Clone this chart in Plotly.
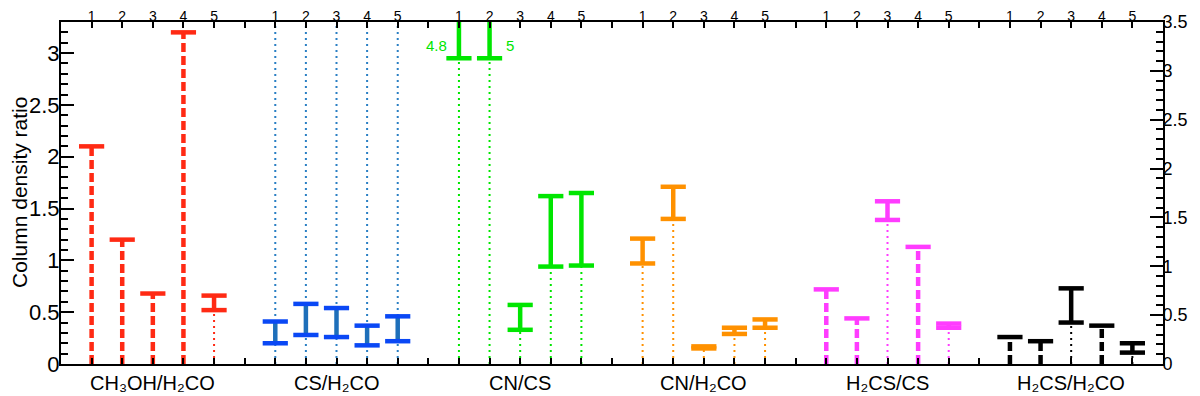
import plotly.graph_objects as go

# Column density ratios per group, sources 1..5
# lo = None -> upper limit only (dashed stem with a cap at the top)
group_names = ["CH₃OH/H₂CO", "CS/H₂CO", "CN/CS", "CN/H₂CO", "H₂CS/CS", "H₂CS/H₂CO"]
source_labels = ["1", "2", "3", "4", "5"]

ch3oh_h2co_lo = [None, None, None, None, 0.52]
ch3oh_h2co_hi = [2.10, 1.20, 0.68, 3.20, 0.66]

cs_h2co_lo = [0.20, 0.28, 0.26, 0.18, 0.22]
cs_h2co_hi = [0.41, 0.58, 0.54, 0.37, 0.46]

cn_cs_lo = [2.95, 2.95, 0.33, 0.94, 0.95]
cn_cs_hi = [4.8, 5.0, 0.57, 1.62, 1.65]

cn_h2co_lo = [0.97, 1.40, 0.15, 0.29, 0.35]
cn_h2co_hi = [1.21, 1.71, 0.17, 0.35, 0.43]

h2cs_cs_lo = [None, None, 1.39, None, 0.35]
h2cs_cs_hi = [0.72, 0.44, 1.57, 1.13, 0.39]

h2cs_h2co_lo = [None, None, 0.40, None, 0.11]
h2cs_h2co_hi = [0.26, 0.22, 0.73, 0.37, 0.20]

lows = [ch3oh_h2co_lo, cs_h2co_lo, cn_cs_lo, cn_h2co_lo, h2cs_cs_lo, h2cs_h2co_lo]
highs = [ch3oh_h2co_hi, cs_h2co_hi, cn_cs_hi, cn_h2co_hi, h2cs_cs_hi, h2cs_h2co_hi]

colors = ["#ff2a14", "#0a48f5", "#00e600", "#ff9100", "#ff3cff", "#000000"]
stem_colors = ["#ff2a14", "#1e6fba", "#00e600", "#ff9100", "#ff3cff", "#000000"]
full_guides = [False, True, False, False, False, False]

FONT = "Liberation Sans, Arial, Helvetica, sans-serif"
Y_LEFT_MAX = 3.30
Y_RIGHT_MAX = 3.5
STEP = len(source_labels) + 1
N_POS = STEP * len(group_names)

DOT = "2px,4px"
DASH = "9px,4px"

fig = go.Figure()

clipped = []
for g in range(len(group_names)):
    xs = [STEP * g + i + 1 for i in range(len(source_labels))]
    dot_x, dot_y, dash_x, dash_y = [], [], [], []
    bar_x, bar_y, cap_x, cap_y = [], [], [], []
    for x, lo, hi in zip(xs, lows[g], highs[g]):
        if lo is None:
            dash_x += [x, x, None]
            dash_y += [0, hi, None]
            cap_x.append(x)
            cap_y.append(hi)
        else:
            if not full_guides[g]:
                dot_x += [x, x, None]
                dot_y += [0, lo, None]
            bar_x += [x, x, None]
            bar_y += [lo, hi, None]
            cap_x.append(x)
            cap_y.append(lo)
            if hi <= Y_LEFT_MAX:
                cap_x.append(x)
                cap_y.append(hi)
            else:
                clipped.append((x, hi, colors[g]))

    if full_guides[g]:
        for x in xs:
            fig.add_vline(x=x, layer="below",
                          line=dict(color="#2a7fc4", width=2, dash=DOT))

    fig.add_trace(go.Scatter(
        x=dot_x, y=dot_y, mode="lines",
        line=dict(color=colors[g], width=2, dash=DOT),
        hoverinfo="skip",
    ))
    fig.add_trace(go.Scatter(
        x=dash_x, y=dash_y, mode="lines",
        line=dict(color=colors[g], width=4.5, dash=DASH),
        hoverinfo="skip",
    ))
    fig.add_trace(go.Scatter(
        x=bar_x, y=bar_y, mode="lines",
        line=dict(color=stem_colors[g], width=4.5),
        hoverinfo="skip",
    ))
    fig.add_trace(go.Scatter(
        x=cap_x, y=cap_y, mode="markers",
        marker=dict(symbol="line-ew", size=18,
                    line=dict(color=colors[g], width=4.5)),
        hoverinfo="skip",
    ))

# dummy trace so the top and right axes are drawn
fig.add_trace(go.Scatter(x=[0], y=[0], xaxis="x2", yaxis="y2", mode="markers",
                         marker=dict(opacity=0), hoverinfo="skip"))

# labels for values that run off the top
for k, (x, v, c) in enumerate(clipped):
    left = k % 2 == 0
    fig.add_annotation(
        x=x, y=0.93, xref="x", yref="paper", text=f"{v:g}",
        showarrow=False, xanchor="right" if left else "left",
        yanchor="middle", xshift=-10 if left else 14,
        font=dict(family=FONT, size=15, color=c),
    )

for g, name in enumerate(group_names):
    fig.add_annotation(
        x=STEP * g + (len(source_labels) + 1) / 2, y=0, xref="x", yref="paper",
        yshift=-19, yanchor="middle", text=name, showarrow=False,
        font=dict(family=FONT, size=20, color="black"),
    )

# y axis title as a rotated annotation so it sits right at the edge
fig.add_annotation(
    x=0, y=0.5, xref="paper", yref="paper", xshift=-42,
    text="Column density ratio", textangle=-90, showarrow=False,
    xanchor="center", yanchor="middle",
    font=dict(family=FONT, size=21, color="black"),
)

all_ticks = list(range(1, N_POS))
top_text = [source_labels[(t % STEP) - 1] if t % STEP else "" for t in all_ticks]

axis_common = dict(showgrid=False, zeroline=False, showline=True,
                   linewidth=2, linecolor="black", ticks="inside",
                   tickwidth=2, tickcolor="black", automargin=False)

# the page body keeps its default 8px margin, so the figure is sized to fit
fig.update_layout(
    width=1192,
    height=388,
    margin=dict(l=53, r=37, t=14, b=32, autoexpand=False),
    plot_bgcolor="white",
    paper_bgcolor="white",
    showlegend=False,
    font=dict(family=FONT, color="black"),
    xaxis=dict(range=[0, N_POS], tickvals=all_ticks, showticklabels=False,
               ticklen=6, **axis_common),
    xaxis2=dict(range=[0, N_POS], overlaying="x", side="top",
                tickvals=all_ticks, ticktext=top_text, ticklen=6,
                ticklabelstandoff=-7, tickfont=dict(size=14), **axis_common),
    yaxis=dict(range=[0, Y_LEFT_MAX], tick0=0, dtick=0.5, ticklen=13,
               ticklabelstandoff=-5, tickfont=dict(size=22),
               minor=dict(dtick=0.1, ticklen=7, tickwidth=2,
                          tickcolor="black", ticks="inside"),
               **axis_common),
    yaxis2=dict(range=[0, Y_RIGHT_MAX], overlaying="y", side="right",
                tick0=0, dtick=0.5, ticklen=13, ticklabelstandoff=-6,
                tickfont=dict(size=18),
                minor=dict(dtick=0.1, ticklen=7, tickwidth=2,
                           tickcolor="black", ticks="inside"),
                **axis_common),
)

fig.write_html("out.html")
